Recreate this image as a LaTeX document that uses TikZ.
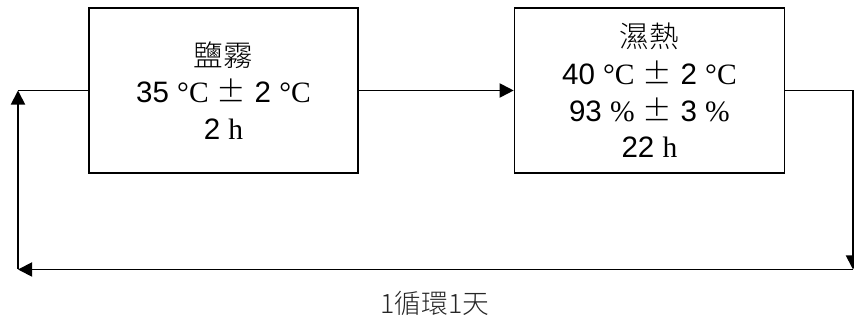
\documentclass[tikz,border=0pt]{standalone}
\usepackage{fontspec}
\setmainfont{Liberation Sans}
\newfontfamily\cjk{Noto Sans CJK TC}
\newfontfamily\cjklight{Noto Sans CJK TC Light}
\newfontfamily\serifu{Liberation Serif}
\usepackage{tikz}
\usetikzlibrary{arrows.meta, positioning}
\newcommand{\dC}{{\serifu °C}}
\newcommand{\pmu}{{\cjklight ±}}
\newcommand{\pct}{{\serifu \%}}
\tikzstyle{block} = [rectangle, minimum height=4.125cm, align=center, inner sep=0pt, draw=black, line width=1pt, font=\fontsize{21}{26}\selectfont]
\tikzstyle{arrow} = [line width=1.3pt, -{Triangle[length=10pt, width=10pt]}]
\tikzstyle{line} = [line width=1.3pt]

\begin{document}
\begin{tikzpicture}
  \useasboundingbox (0,0) rectangle (21.35,8);
  \node[block, minimum width=6.725cm] (salt) at (5.5875,5.7375) {{\cjklight 鹽霧}\\35 \dC\ \pmu\ 2 \dC\\2 {\serifu h}};
  \node[block, minimum width=6.75cm, right=3.875cm of salt] (humid) {{\cjklight 濕熱}\\40 \dC\ \pmu\ 2 \dC\\93 \pct\ \pmu\ 3 \pct\\22 {\serifu h}};

  \coordinate (tr) at (21.325,5.7375);
  \coordinate (br) at (21.325,1.2625);
  \coordinate (bl) at (0.45,1.2625);
  \coordinate (tl) at (bl |- salt.west);

  \draw[arrow] (salt) -- (humid);
  \draw[arrow] (humid.east) -- (tr) -- (br);
  \draw[arrow] (br) -- (bl);
  \draw[arrow] (bl) -- (tl);
  \draw[line] (tl) -- (salt.west);
  \node[font=\cjklight\fontsize{19}{22}\selectfont, text=black!85] (cycle) at (10.875,0.425) {1循環1天};
\end{tikzpicture}
\end{document}
